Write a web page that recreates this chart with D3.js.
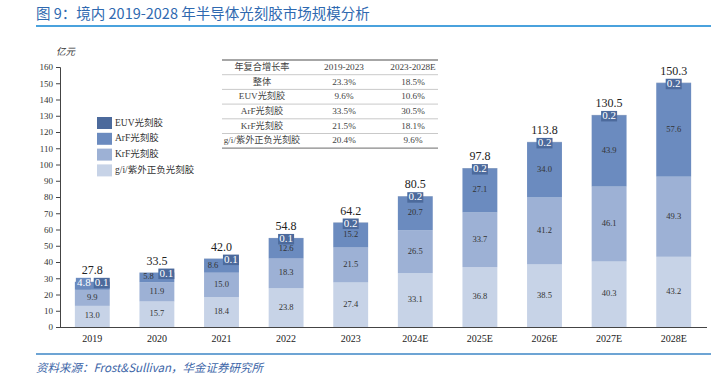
<!DOCTYPE html>
<html>
<head>
<meta charset="utf-8">
<style>
  body { margin: 0; background: #fff; }
  svg { display: block; }
  .serif { font-family: "Liberation Serif", "Noto Sans CJK SC", serif; }
</style>
</head>
<body>
<svg id="chart" width="711" height="379"></svg>
<script src="https://d3js.org/d3.v7.min.js"></script>
<script>
// data
var years = ['2019','2020','2021','2022','2023','2024E','2025E','2026E','2027E','2028E']
var giPos  = [13.0, 15.7, 18.4, 23.8, 27.4, 33.1, 36.8, 38.5, 40.3, 43.2]
var krf    = [9.9, 11.9, 15.0, 18.3, 21.5, 26.5, 33.7, 41.2, 46.1, 49.3]
var arf    = [4.8, 5.8, 8.6, 12.6, 15.2, 20.7, 27.1, 34.0, 43.9, 57.6]
var euv    = [0.1, 0.1, 0.1, 0.1, 0.2, 0.2, 0.2, 0.2, 0.2, 0.2]
var totals = [27.8, 33.5, 42.0, 54.8, 64.2, 80.5, 97.8, 113.8, 130.5, 150.3]
var seriesNames = ['g/i/紫外正负光刻胶', 'KrF光刻胶', 'ArF光刻胶', 'EUV光刻胶']
var yTicks = d3.range(0, 161, 10)

var tableHead = ['年复合增长率', '2019-2023', '2023-2028E']
var tableRows = ['整体', 'EUV光刻胶', 'ArF光刻胶', 'KrF光刻胶', 'g/i/紫外正负光刻胶']
var cagr1 = ['23.3%', '9.6%', '33.5%', '21.5%', '20.4%']
var cagr2 = ['18.5%', '10.6%', '30.5%', '18.1%', '9.6%']

var colors = ['#c7d3e7', '#9db1d5', '#6b8bbf', '#4c6a9c']

var svg = d3.select('#chart')

// title + rules
svg.append('text').attr('x', 36).attr('y', 19)
  .style('font-family', '"Noto Sans CJK SC", sans-serif').style('font-size', '14.5px')
  .attr('fill', '#2f69b0').text('图 9：境内 2019-2028 年半导体光刻胶市场规模分析')
svg.append('line').attr('x1', 36).attr('x2', 711).attr('y1', 26).attr('y2', 26)
  .attr('stroke', '#4aa2dd').attr('stroke-width', 1.8)
svg.append('line').attr('x1', 36).attr('x2', 711).attr('y1', 354).attr('y2', 354)
  .attr('stroke', '#3d86c6').attr('stroke-width', 1.3)
svg.append('text').attr('x', 36).attr('y', 372)
  .style('font-family', '"Noto Sans CJK SC", sans-serif').style('font-size', '11.5px')
  .style('font-style', 'italic').attr('fill', '#3d66a8')
  .text('资料来源：Frost&Sullivan，华金证券研究所')

var x = d3.scaleBand().domain(years).range([60, 706]).paddingInner(0.46).paddingOuter(0.23)
var y = d3.scaleLinear().domain([0, 160]).range([327, 67])

// y axis
var yAxis = svg.append('g').attr('transform', 'translate(60,0)')
  .call(d3.axisLeft(y).tickValues(yTicks).tickSize(4).tickPadding(3))
yAxis.select('.domain').attr('stroke', '#444')
yAxis.selectAll('.tick line').attr('stroke', '#444')
yAxis.selectAll('text').attr('class', 'serif').style('font-size', '9px').attr('fill', '#333')

svg.append('text').attr('x', 56).attr('y', 55).attr('class', 'serif')
  .style('font-size', '9.5px').style('font-style', 'italic').attr('fill', '#333').text('亿元')

// x axis
var xAxis = svg.append('g').attr('transform', 'translate(0,327)')
  .call(d3.axisBottom(x).tickSize(0).tickPadding(8))
xAxis.select('.domain').attr('d', 'M60,0.5H707').attr('stroke', '#444').attr('stroke-width', 1.2)
xAxis.selectAll('text').attr('class', 'serif').style('font-size', '10px').attr('fill', '#222')

// stacks
var table = years.map(function(yr, i) {
  return { year: yr, gi: giPos[i], krf: krf[i], arf: arf[i], euv: euv[i], total: totals[i] }
})
var stack = d3.stack().keys(['gi', 'krf', 'arf', 'euv'])(table)

var layers = svg.selectAll('g.layer').data(stack).join('g').attr('class', 'layer')
  .attr('fill', function(d, i) { return colors[i] })
layers.selectAll('rect').data(function(d) { return d }).join('rect')
  .attr('x', function(d) { return x(d.data.year) })
  .attr('width', x.bandwidth())
  .attr('y', function(d) { return y(d[1]) })
  .attr('height', function(d) { return y(d[0]) - y(d[1]) })

var bw = 16, bh = 10.5   // EUV label box

// segment labels for g/i, KrF, ArF
stack.slice(0, 3).forEach(function(layer, li) {
  layer.forEach(function(d) {
    var h = y(d[0]) - y(d[1])
    var cx = x(d.data.year) + x.bandwidth() / 2
    var cy = (y(d[0]) + y(d[1])) / 2
    var val = d3.format('.1f')(d[1] - d[0])
    if (li === 2 && h < 16) {
      // small ArF segments: label to the left, boxed when very thin
      var lx = x(d.data.year) + 9
      if (h < 9) {
        svg.append('rect').attr('x', x(d.data.year) + 1).attr('y', y(d.data.total) - 4)
          .attr('width', 15).attr('height', 11.5).attr('fill', colors[2])
        svg.append('text').attr('x', lx).attr('y', y(d.data.total) + 2).attr('class', 'serif')
          .attr('text-anchor', 'middle').attr('dominant-baseline', 'middle')
          .style('font-size', '11px').attr('fill', '#fff').text(val)
      } else {
        svg.append('text').attr('x', lx).attr('y', cy).attr('class', 'serif')
          .attr('text-anchor', 'middle').attr('dominant-baseline', 'middle')
          .style('font-size', '8.5px').attr('fill', '#333').text(val)
      }
      return
    }
    if (li === 2) cy = Math.max(cy, y(d.data.total) - 4 + bh + 5)
    svg.append('text').attr('x', cx).attr('y', cy).attr('class', 'serif')
      .attr('text-anchor', 'middle').attr('dominant-baseline', 'middle')
      .style('font-size', '8.5px').attr('fill', '#333').text(val)
  })
})

// EUV boxed labels
stack[3].forEach(function(d) {
  var arfH = y(d.data.gi + d.data.krf) - y(d.data.gi + d.data.krf + d.data.arf)
  var bx = arfH < 16 ? x(d.data.year) + x.bandwidth() - bw : x(d.data.year) + (x.bandwidth() - bw) / 2
  var by = y(d[1]) - 4
  svg.append('rect').attr('x', bx).attr('y', by).attr('width', bw).attr('height', bh)
    .attr('fill', colors[3])
  svg.append('text').attr('x', bx + bw / 2).attr('y', by + bh / 2 + 0.5).attr('class', 'serif')
    .attr('text-anchor', 'middle').attr('dominant-baseline', 'middle')
    .style('font-size', '11px').attr('fill', '#fff').text(d3.format('.1f')(d[1] - d[0]))
})

// totals
svg.selectAll('text.total').data(table).join('text').attr('class', 'total serif')
  .attr('x', function(d) { return x(d.year) + x.bandwidth() / 2 })
  .attr('y', function(d) { return y(d.total) - 8 })
  .attr('text-anchor', 'middle')
  .style('font-size', '12px').attr('fill', '#222')
  .text(function(d) { return d3.format('.1f')(d.total) })

// legend
var legendOrder = [3, 2, 1, 0]
legendOrder.forEach(function(si, i) {
  var ly = 117 + i * 15.8
  svg.append('rect').attr('x', 97).attr('y', ly).attr('width', 15).attr('height', 12).attr('fill', colors[si])
  svg.append('text').attr('x', 115).attr('y', ly + 6.5).attr('class', 'serif')
    .attr('dominant-baseline', 'middle').style('font-size', '9.5px').attr('fill', '#333')
    .text(seriesNames[si])
})

// CAGR table
var tx0 = 222, tx1 = 438, ty0 = 60, rowH = 14.7
var colX = [262, 344, 413]
var tg = svg.append('g').attr('class', 'serif').style('font-size', '9.2px').attr('fill', '#444')
tableHead.forEach(function(t, c) {
  tg.append('text').attr('x', colX[c]).attr('y', ty0 + rowH / 2 + 0.5)
    .attr('text-anchor', 'middle').attr('dominant-baseline', 'middle').text(t)
})
tableRows.forEach(function(r, i) {
  var cy = ty0 + rowH * (i + 1) + rowH / 2 + 0.5
  ;[r, cagr1[i], cagr2[i]].forEach(function(t, c) {
    tg.append('text').attr('x', colX[c]).attr('y', cy)
      .attr('text-anchor', 'middle').attr('dominant-baseline', 'middle').text(t)
  })
})
d3.range(0, 7).forEach(function(i) {
  var edge = i === 0 || i === 6
  svg.append('line').attr('x1', tx0).attr('x2', tx1)
    .attr('y1', ty0 + i * rowH).attr('y2', ty0 + i * rowH)
    .attr('stroke', edge ? '#888' : '#bbb').attr('stroke-width', edge ? 1.3 : 0.8)
})
</script>
</body>
</html>
